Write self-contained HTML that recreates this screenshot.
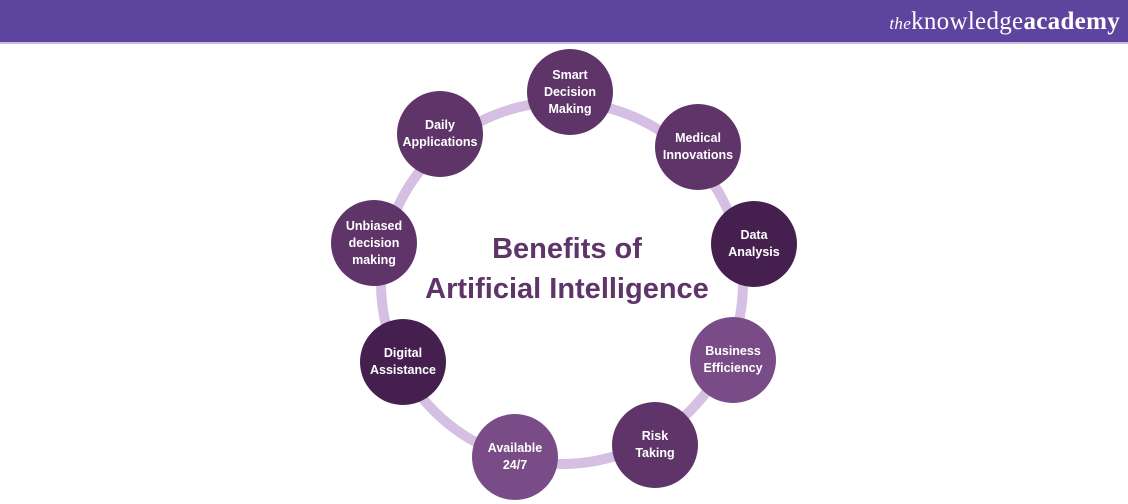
<!DOCTYPE html>
<html><head><style>
body{margin:0;width:1128px;height:504px;background:#fff;overflow:hidden;position:relative;font-family:"Liberation Sans",sans-serif}
.bar{position:absolute;left:0;top:0;width:1128px;height:42px;background:#5e449e;border-bottom:2px solid #c9bde0}
.logo{position:absolute;right:8px;top:8px;color:#fff;font-family:"Liberation Serif",serif;font-size:25px;letter-spacing:0.3px}
.logo i{font-size:17px}
.n{position:absolute;width:86px;height:86px;border-radius:50%;display:flex;align-items:center;justify-content:center;text-align:center;color:#fff;font-weight:bold;font-size:12.5px;line-height:17px}
.a{background:#5e3469}.d{background:#45204f}.l{background:#7a4c87}
.t{position:absolute;left:370px;width:394px;text-align:center;color:#5e3469;font-weight:bold;font-size:29px}
</style></head><body>
<div class="bar"><div class="logo"><i>the</i>knowledge<b>academy</b></div></div>
<svg style="position:absolute;left:0;top:0" width="1128" height="504"><circle cx="562" cy="283" r="181" fill="none" stroke="#d5bfe2" stroke-width="10"/></svg>
<div class="t" style="top:233px">Benefits of</div>
<div class="t" style="top:273px">Artificial Intelligence</div>
<div class="n a" style="left:527px;top:49px">Smart<br>Decision<br>Making</div>
<div class="n a" style="left:655px;top:104px">Medical<br>Innovations</div>
<div class="n d" style="left:711px;top:201px">Data<br>Analysis</div>
<div class="n l" style="left:690px;top:317px">Business<br>Efficiency</div>
<div class="n a" style="left:612px;top:402px">Risk<br>Taking</div>
<div class="n l" style="left:472px;top:414px">Available<br>24/7</div>
<div class="n d" style="left:360px;top:319px">Digital<br>Assistance</div>
<div class="n a" style="left:331px;top:200px">Unbiased<br>decision<br>making</div>
<div class="n a" style="left:397px;top:91px">Daily<br>Applications</div>
</body></html>
